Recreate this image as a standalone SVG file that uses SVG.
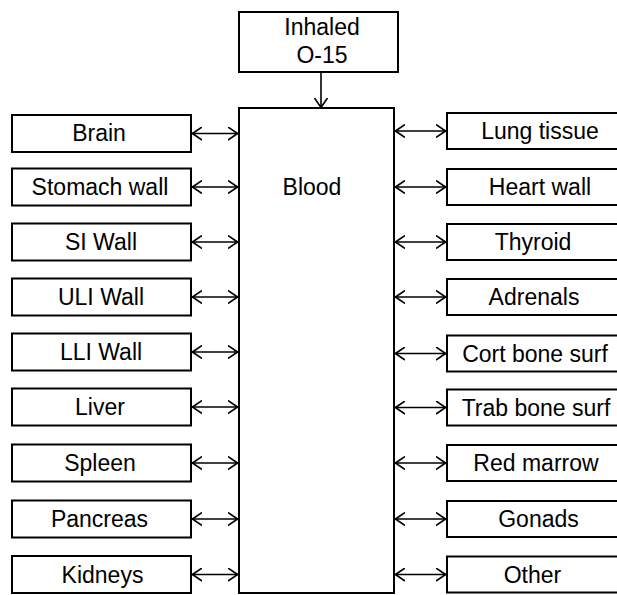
<svg xmlns="http://www.w3.org/2000/svg" width="617" height="595" viewBox="0 0 617 595">
<defs>
<style>
.box{fill:#fff;stroke:#000;stroke-width:2}
.t{font-family:"Liberation Sans",Arial,sans-serif;font-size:23px;fill:#000;text-anchor:middle}
.c{fill:none;stroke:#000;stroke-width:1.6}
</style>
<marker id="h" viewBox="0 0 10 14" refX="10" refY="7" markerWidth="10" markerHeight="14" markerUnits="userSpaceOnUse" orient="auto-start-reverse">
<path d="M0,0.5 L9.5,7 L0,13.5" fill="none" stroke="#000" stroke-width="1.6"/>
</marker>
</defs>
<rect width="617" height="595" fill="#fff"/>
<g id="connectors">
<line class="c" x1="321" y1="72" x2="321" y2="108" marker-end="url(#h)"/>
<g id="left-arrows">
<line class="c" x1="192" y1="133.5" x2="238" y2="133.5" marker-start="url(#h)" marker-end="url(#h)"/>
<line class="c" x1="192" y1="187" x2="238" y2="187" marker-start="url(#h)" marker-end="url(#h)"/>
<line class="c" x1="192" y1="242" x2="238" y2="242" marker-start="url(#h)" marker-end="url(#h)"/>
<line class="c" x1="192" y1="297" x2="238" y2="297" marker-start="url(#h)" marker-end="url(#h)"/>
<line class="c" x1="192" y1="352" x2="238" y2="352" marker-start="url(#h)" marker-end="url(#h)"/>
<line class="c" x1="192" y1="407" x2="238" y2="407" marker-start="url(#h)" marker-end="url(#h)"/>
<line class="c" x1="192" y1="463" x2="238" y2="463" marker-start="url(#h)" marker-end="url(#h)"/>
<line class="c" x1="192" y1="519" x2="238" y2="519" marker-start="url(#h)" marker-end="url(#h)"/>
<line class="c" x1="192" y1="574.5" x2="238" y2="574.5" marker-start="url(#h)" marker-end="url(#h)"/>
</g>
<g id="right-arrows">
<line class="c" x1="395" y1="131" x2="446" y2="131" marker-start="url(#h)" marker-end="url(#h)"/>
<line class="c" x1="395" y1="187" x2="446" y2="187" marker-start="url(#h)" marker-end="url(#h)"/>
<line class="c" x1="395" y1="242" x2="446" y2="242" marker-start="url(#h)" marker-end="url(#h)"/>
<line class="c" x1="395" y1="297" x2="446" y2="297" marker-start="url(#h)" marker-end="url(#h)"/>
<line class="c" x1="395" y1="353.5" x2="446" y2="353.5" marker-start="url(#h)" marker-end="url(#h)"/>
<line class="c" x1="395" y1="407.5" x2="446" y2="407.5" marker-start="url(#h)" marker-end="url(#h)"/>
<line class="c" x1="395" y1="463" x2="446" y2="463" marker-start="url(#h)" marker-end="url(#h)"/>
<line class="c" x1="395" y1="519" x2="446" y2="519" marker-start="url(#h)" marker-end="url(#h)"/>
<line class="c" x1="395" y1="574.5" x2="446" y2="574.5" marker-start="url(#h)" marker-end="url(#h)"/>
</g>
</g>
<g id="inhaled"><rect class="box" x="239" y="12" width="159" height="60"/><text class="t" x="322" y="35">Inhaled</text><text class="t" x="322" y="63">O-15</text></g>
<g id="blood"><rect class="box" x="239" y="108" width="155" height="485"/><text class="t" x="312" y="195">Blood</text></g>
<g id="brain"><rect class="box" x="12" y="115" width="179" height="37"/><text class="t" x="99" y="141">Brain</text></g>
<g id="stomach"><rect class="box" x="12" y="168.5" width="179" height="37"/><text class="t" x="100" y="195">Stomach wall</text></g>
<g id="si"><rect class="box" x="12" y="223.5" width="179" height="37"/><text class="t" x="101" y="250">SI Wall</text></g>
<g id="uli"><rect class="box" x="12" y="278.5" width="179" height="37"/><text class="t" x="101" y="305">ULI Wall</text></g>
<g id="lli"><rect class="box" x="12" y="333.5" width="179" height="37"/><text class="t" x="101" y="360">LLI Wall</text></g>
<g id="liver"><rect class="box" x="12" y="388.5" width="179" height="37"/><text class="t" x="100" y="415">Liver</text></g>
<g id="spleen"><rect class="box" x="12" y="444.5" width="179" height="37"/><text class="t" x="100" y="471">Spleen</text></g>
<g id="pancreas"><rect class="box" x="12" y="500.5" width="179" height="37"/><text class="t" x="99.5" y="527">Pancreas</text></g>
<g id="kidneys"><rect class="box" x="12" y="556" width="179" height="37"/><text class="t" x="102.5" y="582.5">Kidneys</text></g>
<g id="lung"><rect class="box" x="447" y="113" width="190" height="36"/><text class="t" x="540" y="139">Lung tissue</text></g>
<g id="heart"><rect class="box" x="447" y="169" width="190" height="36"/><text class="t" x="540" y="195">Heart wall</text></g>
<g id="thyroid"><rect class="box" x="447" y="224" width="190" height="36"/><text class="t" x="533" y="250">Thyroid</text></g>
<g id="adrenals"><rect class="box" x="447" y="279" width="190" height="36"/><text class="t" x="534" y="305">Adrenals</text></g>
<g id="cort"><rect class="box" x="447" y="335.5" width="190" height="36"/><text class="t" x="535" y="361.5">Cort bone surf</text></g>
<g id="trab"><rect class="box" x="447" y="389.5" width="190" height="36"/><text class="t" x="536" y="415.5">Trab bone surf</text></g>
<g id="marrow"><rect class="box" x="447" y="445" width="190" height="36"/><text class="t" x="536" y="471">Red marrow</text></g>
<g id="gonads"><rect class="box" x="447" y="501" width="190" height="36"/><text class="t" x="538.5" y="527">Gonads</text></g>
<g id="other"><rect class="box" x="447" y="556.5" width="190" height="36"/><text class="t" x="532.5" y="582.5">Other</text></g>
</svg>
